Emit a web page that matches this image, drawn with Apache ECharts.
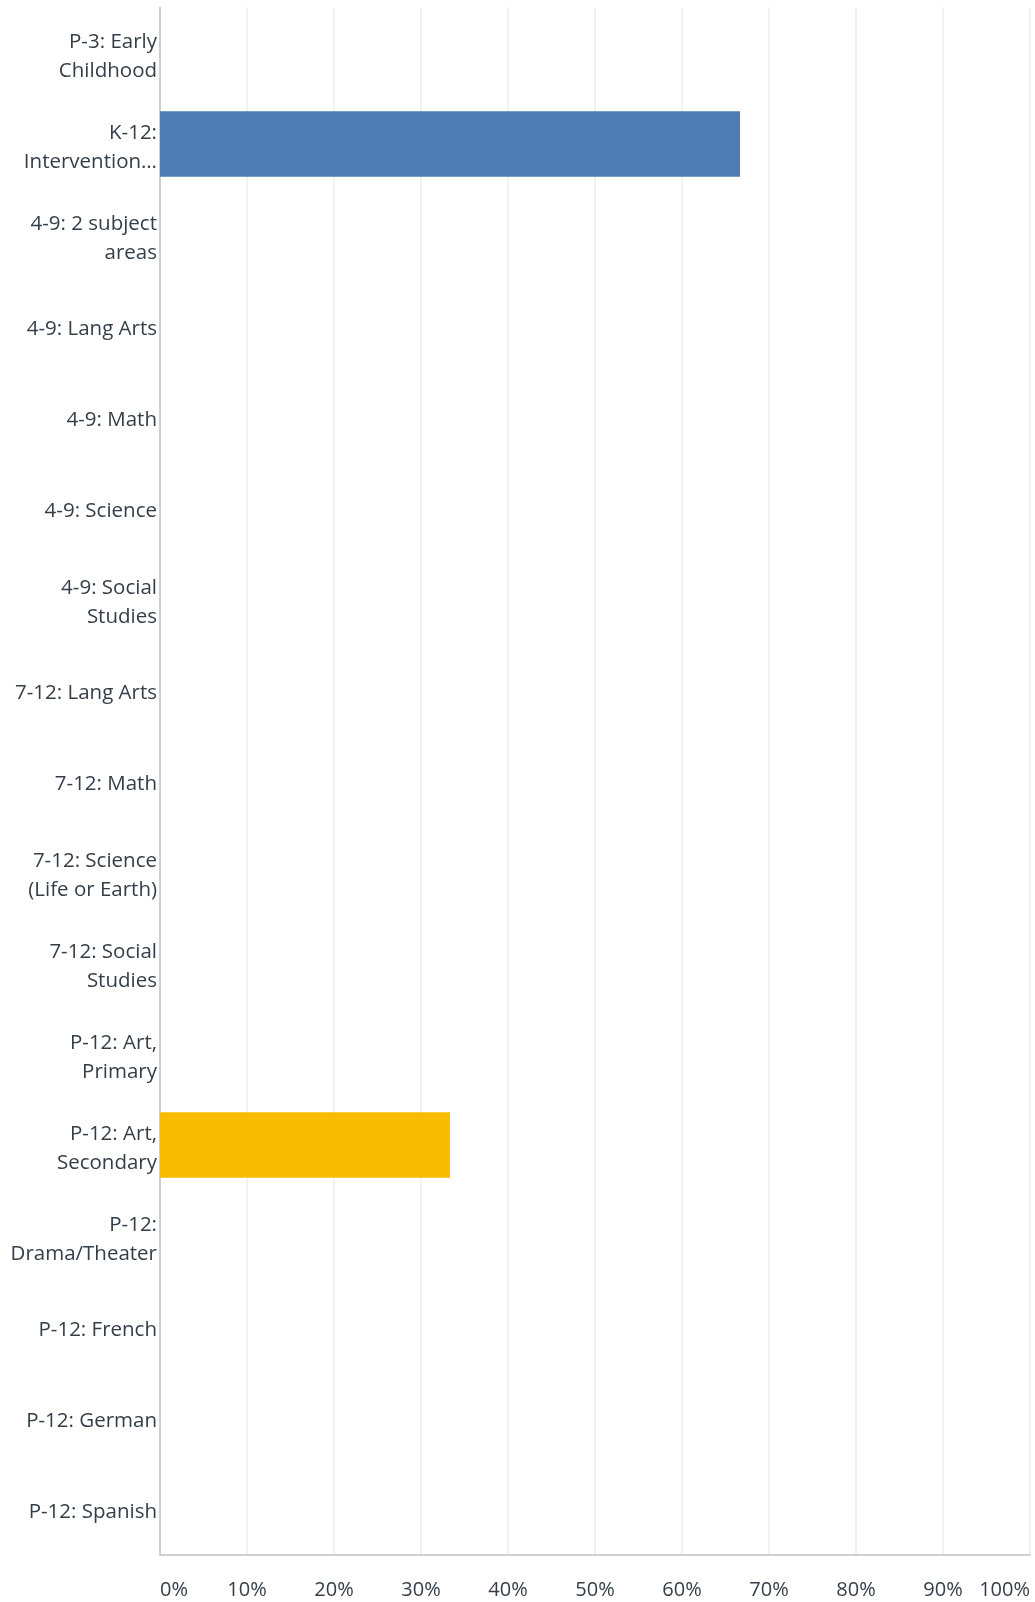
<!DOCTYPE html>
<html>
<head>
<meta charset="utf-8">
<script src="https://cdn.jsdelivr.net/npm/echarts@6/dist/echarts.min.js"></script>
<style>
html,body{margin:0;padding:0;background:#fff;}
#chart{width:1035px;height:1602px;}
</style>
</head>
<body>
<div id="chart"></div>
<script>
//类别（从上到下）
var categories = [
	"P-3: Early\nChildhood",
	"K-12:\nIntervention\u2026",
	"4-9: 2 subject\nareas",
	"4-9: Lang Arts",
	"4-9: Math",
	"4-9: Science",
	"4-9: Social\nStudies",
	"7-12: Lang Arts",
	"7-12: Math",
	"7-12: Science\n(Life or Earth)",
	"7-12: Social\nStudies",
	"P-12: Art,\nPrimary",
	"P-12: Art,\nSecondary",
	"P-12:\nDrama/Theater",
	"P-12: French",
	"P-12: German",
	"P-12: Spanish"
];
//百分比
var values = [0, 66.67, 0, 0, 0, 0, 0, 0, 0, 0, 0, 0, 33.33, 0, 0, 0, 0];
//x轴刻度
var xTicks = [0, 10, 20, 30, 40, 50, 60, 70, 80, 90, 100];

var barColors = {1: '#4f7cb3', 12: '#f8bd00'};
var textColor = '#333e48';
var fontFamily = 'Open Sans';

var chart = echarts.init(document.getElementById('chart'));
var option = {
	animation: false,
	grid: {
		left: 160,
		right: 5,
		top: 7.5,
		bottom: 47.5,
		containLabel: false
	},
	xAxis: {
		type: 'value',
		min: xTicks[0],
		max: xTicks[xTicks.length - 1],
		interval: 10,
		axisLine: {show: true, lineStyle: {color: '#d0d0d0', width: 2}},
		axisTick: {show: false},
		splitLine: {show: true, lineStyle: {color: '#ececec', width: 1.5}},
		axisLabel: {
			color: textColor,
			fontFamily: fontFamily,
			fontSize: 20,
			margin: 26,
			alignMinLabel: 'left',
			alignMaxLabel: 'right',
			formatter: '{value}%'
		}
	},
	yAxis: {
		type: 'category',
		inverse: true,
		data: categories,
		axisLine: {show: true, lineStyle: {color: '#d0d0d0', width: 2}},
		axisTick: {show: false},
		splitLine: {show: false},
		axisLabel: {
			margin: 3,
			interval: 0,
			align: 'right',
			//顶部加一行空白,把文字整体下移一点
			formatter: function(v){
				var lines = v.split('\n').map(function(l){ return '{t|' + l + '}'; });
				return '{s| }\n' + lines.join('\n');
			},
			rich: {
				s: {fontSize: 1, lineHeight: 7},
				t: {
					color: textColor,
					fontFamily: fontFamily,
					fontSize: 20.5,
					lineHeight: 28.5,
					align: 'right'
				}
			}
		}
	},
	series: [{
		type: 'bar',
		barCategoryGap: '28%',
		data: values.map(function(v, i){
			return {value: v, itemStyle: {color: barColors[i] || '#4f7cb3'}};
		}),
		silent: true
	}]
};
chart.setOption(option);
</script>
</body>
</html>
